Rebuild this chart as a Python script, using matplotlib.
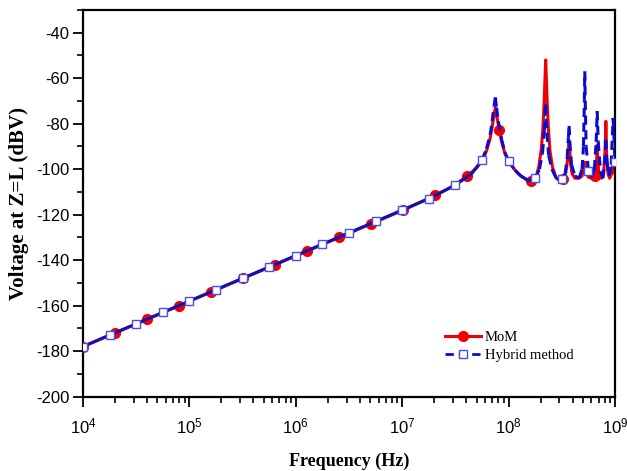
import numpy as np
import matplotlib
matplotlib.use("Agg")
import matplotlib.pyplot as plt
from matplotlib.collections import LineCollection
from matplotlib.lines import Line2D
from matplotlib.ticker import LogLocator, MultipleLocator, NullFormatter

# ---- data -------------------------------------------------------------
# MoM solution (Hz, dBV)
mom_freq = [1e4, 2e4, 4e4, 8e4, 1.6e5, 3.2e5, 6.4e5, 1.28e6, 2.56e6, 5.12e6,
            1.024e7, 2.048e7, 3e7, 4.096e7, 5e7, 5.6e7, 6.2e7, 6.7e7, 7.0e7,
            7.3e7, 7.5e7, 7.7e7, 8.0e7, 8.192e7, 8.6e7, 9.2e7, 1.0e8, 1.15e8,
            1.3e8, 1.5e8, 1.6384e8, 1.8e8, 1.92e8, 2.03e8, 2.1e8, 2.15e8,
            2.19e8, 2.23e8, 2.27e8, 2.31e8, 2.37e8, 2.45e8, 2.58e8, 2.8e8,
            3.0e8, 3.2768e8, 3.45e8, 3.58e8, 3.65e8, 3.7e8, 3.75e8, 3.83e8,
            3.95e8, 4.2e8, 4.6e8, 4.9e8, 5.1e8, 5.2e8, 5.3e8, 5.6e8, 6.0e8,
            6.5536e8, 6.7e8, 6.8e8, 6.9e8, 7.1e8, 7.5e8, 7.85e8, 8.05e8,
            8.15e8, 8.2e8, 8.25e8, 8.35e8, 8.6e8, 8.9e8, 9.3e8, 9.6e8, 1e9]
mom_db = [-178, -172, -166, -160, -154, -148, -142, -136, -130, -124,
          -118, -111.5, -107.5, -103, -99.5, -96.5, -92, -86.5, -81.5,
          -76, -73, -76, -80.5, -83, -88, -93, -96.5, -100.5,
          -103, -104.8, -105.2, -104, -99, -91, -82, -72,
          -62, -52, -62, -72, -83, -92, -99, -104,
          -105, -104.5, -101.5, -96, -91, -87.5, -91, -98,
          -102, -104, -104, -103, -100, -97, -100, -103.5, -104,
          -103, -97, -89.5, -97, -103, -104, -100, -92,
          -85, -79, -85, -95, -102, -104, -102, -97, -102]
mom_mark_freq = [1e4, 2e4, 4e4, 8e4, 1.6e5, 3.2e5, 6.4e5, 1.28e6, 2.56e6,
                 5.12e6, 1.024e7, 2.048e7, 4.096e7, 8.192e7, 1.6384e8,
                 3.2768e8, 6.5536e8]

# Hybrid method solution (Hz, dBV)
hyb_freq = [1e4, 1.778e4, 3.162e4, 5.623e4, 1e5, 1.778e5, 3.162e5, 5.623e5,
            1e6, 1.778e6, 3.162e6, 5.623e6, 1e7, 1.778e7, 3.162e7, 4.5e7,
            5.623e7, 6.2e7, 6.7e7, 7.0e7, 7.3e7, 7.5e7, 7.7e7, 8.0e7, 8.6e7,
            9.2e7, 1e8, 1.15e8, 1.3e8, 1.5e8, 1.64e8, 1.778e8, 1.95e8, 2.08e8,
            2.17e8, 2.23e8, 2.29e8, 2.38e8, 2.55e8, 2.8e8, 3.162e8, 3.4e8,
            3.55e8, 3.65e8, 3.7e8, 3.76e8, 3.9e8, 4.2e8, 4.6e8, 4.9e8, 5.05e8,
            5.15e8, 5.2e8, 5.25e8, 5.35e8, 5.623e8, 6.0e8, 6.4e8, 6.65e8,
            6.8e8, 6.95e8, 7.3e8, 7.7e8, 8.0e8, 8.2e8, 8.4e8, 8.8e8, 9.2e8,
            9.6e8, 1e9]
hyb_db = [-178, -173, -168, -163, -158, -153, -148, -143,
          -138, -133, -128, -123, -118, -113, -107, -102,
          -96, -91, -85, -79, -72, -68.5, -73, -79, -87,
          -92.5, -96.5, -100.5, -103, -104.8, -105, -104, -100, -93,
          -83, -71.5, -84, -94, -100, -104, -104.5, -102,
          -95, -86, -81, -88, -98, -103, -104, -100, -90,
          -70, -57, -70, -90, -100.8, -103.5, -100, -88,
          -74.5, -88, -101, -104, -98, -87, -97, -103, -98,
          -77.5, -97]
hyb_mark_freq = [1e4, 1.778e4, 3.162e4, 5.623e4, 1e5, 1.778e5, 3.162e5,
                 5.623e5, 1e6, 1.778e6, 3.162e6, 5.623e6, 1e7, 1.778e7,
                 3.162e7, 5.623e7, 1e8, 1.778e8, 3.162e8, 5.623e8, 1e9]

x_ticks = [1e4, 1e5, 1e6, 1e7, 1e8, 1e9]
x_ticklabels = [r"$10^4$", r"$10^5$", r"$10^6$", r"$10^7$", r"$10^8$", r"$10^9$"]
y_ticks = [-200, -180, -160, -140, -120, -100, -80, -60, -40]

# ---- styling ----------------------------------------------------------
RED = "#f00000"
BLUE = "#0a0ad2"
BLUE_DARK = "#1212b4"
SQ_EDGE = "#4b4bf0"
serif = ["Liberation Serif", "DejaVu Serif"]
sans = ["Liberation Sans", "DejaVu Sans"]

plt.rcParams["font.family"] = sans
plt.rcParams["axes.unicode_minus"] = False
plt.rcParams["mathtext.fontset"] = "custom"
plt.rcParams["mathtext.rm"] = "Liberation Sans"
plt.rcParams["mathtext.it"] = "Liberation Sans"

fig = plt.figure(figsize=(6.27, 4.71), dpi=100)
ax = fig.add_axes([0.1324, 0.158, 0.8485, 0.821])
ax.set_xscale("log")

mom_f = np.array(mom_freq)
mom_v = np.array(mom_db)
hyb_f = np.array(hyb_freq)
hyb_v = np.array(hyb_db)

mom_idx = list(np.nonzero(np.isin(mom_f, mom_mark_freq))[0])
hyb_idx = list(np.nonzero(np.isin(hyb_f, hyb_mark_freq))[0])

# MoM: solid red curve with filled circles
ax.plot(mom_f, mom_v, color=RED, lw=2.2, zorder=2)
ax.plot(mom_f[mom_idx], mom_v[mom_idx], ls="none", marker="o", ms=7,
        color=RED, zorder=3)

# Hybrid: low-frequency part drawn continuous, resonance part as
# per-segment dashes (dash pattern restarts on each segment)
split = 16
ax.plot(hyb_f[:split + 1], hyb_v[:split + 1], color=BLUE_DARK, lw=2.2,
        zorder=4, solid_capstyle="butt")
seg_pts = [[(hyb_f[i], hyb_v[i]), (hyb_f[i + 1], hyb_v[i + 1])]
           for i in range(split, len(hyb_f) - 1)]
lc = LineCollection(seg_pts, colors=BLUE, linewidths=2.2,
                    linestyles=[(0, (3.0, 1.8))], zorder=4, capstyle="butt")
ax.add_collection(lc)
ax.plot(hyb_f[hyb_idx], hyb_v[hyb_idx], ls="none", marker="s", ms=5.5,
        mfc="white", mec=SQ_EDGE, mew=1.0, zorder=5)

# ---- axes -------------------------------------------------------------
ax.set_xlim(1e4, 1e9)
ax.set_ylim(-200, -30)
ax.set_xticks(x_ticks)
ax.set_xticklabels(x_ticklabels)
ax.xaxis.set_minor_locator(LogLocator(base=10, subs=np.arange(2, 10)))
ax.xaxis.set_minor_formatter(NullFormatter())
ax.set_yticks(y_ticks)
ax.yaxis.set_minor_locator(MultipleLocator(10))

ax.tick_params(which="major", direction="out", length=7, width=1.3,
               labelsize=12, top=False, right=False)
ax.tick_params(which="minor", direction="out", length=4, width=1.2,
               top=False, right=False)
ax.tick_params(axis="x", which="major", pad=7)
ax.tick_params(axis="y", which="major", pad=3)
for s in ax.spines.values():
    s.set_linewidth(1.6)

ax.set_xlabel("Frequency (Hz)", fontsize=13, fontweight="bold",
              family=serif, labelpad=12)
ax.set_ylabel("Voltage at Z=L (dBV)", fontsize=15, fontweight="bold",
              family=serif, labelpad=5)

handles = [
    Line2D([], [], color=RED, lw=2.2, marker="o", ms=7),
    Line2D([], [], color=BLUE, lw=2.0, ls=(0, (3.0, 1.8)), marker="s",
           ms=5.5, mfc="white", mec=SQ_EDGE, mew=1.0),
]
ax.legend(handles, ["MoM", "Hybrid method"], loc="upper left",
          bbox_to_anchor=(0.655, 0.205), frameon=False, handlelength=2.5,
          handletextpad=0.25, labelspacing=0.35,
          prop={"family": serif, "size": 10.5})

fig.savefig("out.png", dpi=100)
